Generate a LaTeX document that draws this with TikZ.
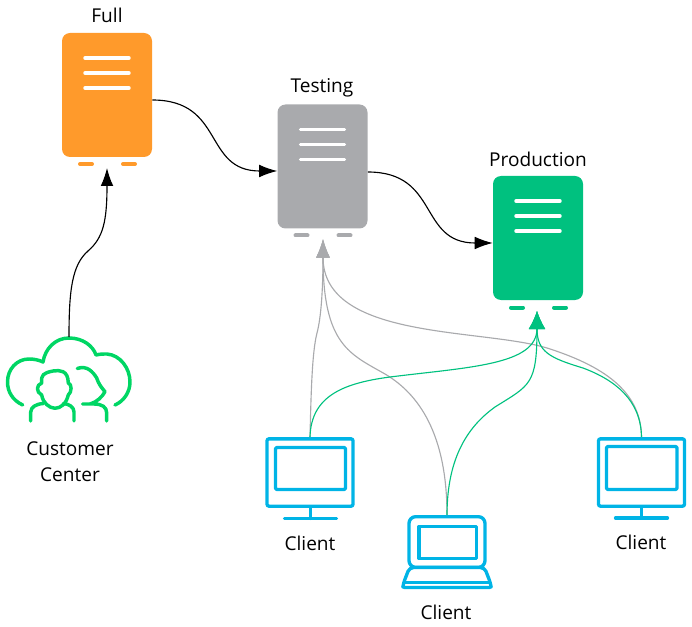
\documentclass[tikz,border=0pt]{standalone}
\usepackage{fontspec}
\setmainfont{Open Sans}
\usetikzlibrary{arrows.meta}
\definecolor{fullorange}{RGB}{255,154,43}
\definecolor{testgray}{RGB}{169,170,173}
\definecolor{prodgreen}{RGB}{0,193,127}
\definecolor{cloudgreen}{RGB}{0,214,100}
\definecolor{clientblue}{RGB}{0,180,230}
\tikzset{
  serverbox/.style={rounded corners=6pt,minimum width=67.5pt,minimum height=93pt,inner sep=0pt},
  barline/.style={white,line width=2.6pt,line cap=round},
  footline/.style={line width=3pt,line cap=round},
  blackflow/.style={black,line width=0.85pt,-{Latex[length=13.5pt,width=9.5pt]}},
  grayflow/.style={testgray,line width=0.85pt,-{Latex[length=14pt,width=10.5pt]}},
  greenflow/.style={prodgreen,line width=0.85pt,-{Latex[length=13.5pt,width=12.5pt]}},
  cloudline/.style={cloudgreen,line width=2.6pt,line cap=round,line join=round},
  clientline/.style={clientblue,line width=2.5pt,line cap=round,line join=round},
  screenbox/.style={draw=clientblue,line width=2.5pt,rounded corners=1.5pt,inner sep=0pt},
  caption/.style={inner sep=0pt,align=center,font=\fontsize{14.3}{19.5}\selectfont}
}
\begin{document}
\begin{tikzpicture}[x=0.75pt,y=0.75pt,yscale=-1]
\useasboundingbox (0,0) rectangle (692,627);

%Shape: Servers
\node (full) [serverbox,fill=fullorange] at (107,95) {};
\node (testing) [serverbox,fill=testgray] at (322.5,166.5) {};
\node (production) [serverbox,fill=prodgreen] at (538,238) {};
\draw [barline] (85,58) -- (129,58);
\draw [barline] (85,73) -- (129,73);
\draw [barline] (85,88) -- (129,88);
\draw [barline] (300.5,129.5) -- (344.5,129.5);
\draw [barline] (300.5,144.5) -- (344.5,144.5);
\draw [barline] (300.5,159.5) -- (344.5,159.5);
\draw [barline] (516,201) -- (560,201);
\draw [barline] (516,216) -- (560,216);
\draw [barline] (516,231) -- (560,231);
\draw [footline,fullorange] (80,164) -- (92,164);
\draw [footline,fullorange] (123,164) -- (135,164);
\draw [footline,testgray] (295.5,235.5) -- (307.5,235.5);
\draw [footline,testgray] (338.5,235.5) -- (350.5,235.5);
\draw [footline,prodgreen] (511,307.5) -- (523,307.5);
\draw [footline,prodgreen] (554,307.5) -- (566,307.5);

%Shape: Customer cloud
\coordinate (cloudtop) at (69,337);
\draw [cloudline] (22.7,405) .. controls (12,400) and (7.5,391) .. (7.5,382) .. controls (7.5,369) and (17,359) .. (29,359) .. controls (34,359) and (39,360) .. (43,362) .. controls (45,349) and (55,338) .. (69,338) .. controls (83,338) and (93,346) .. (96,355) .. controls (100,354) and (103,354) .. (107,354) .. controls (120,355) and (130,368) .. (130,382) .. controls (130,392) and (124,401) .. (115,405);
\draw [cloudline] (41.7,383) .. controls (41,375) and (43,373) .. (53,371) .. controls (60,370) and (68,370) .. (68.3,383) .. controls (72,384) and (72,392) .. (68.3,395) .. controls (66,404) and (61,408) .. (55,408.3) .. controls (49,408) and (43,403) .. (41.7,395) .. controls (36,392) and (36,385) .. (41.7,383) -- cycle;
\draw [cloudline] (30.7,421) -- (30.7,412) .. controls (31,407) and (36,404) .. (43.3,403.5);
\draw [cloudline] (74,421) -- (74,412) .. controls (74,407) and (69,404) .. (63.3,403.5);
\draw [cloudline] (77.3,368.5) .. controls (87,365) and (93,372) .. (96.7,378) .. controls (99,385) and (102,388) .. (105,391.7) .. controls (102,397) and (97,402) .. (90,404) -- (82.7,404) -- (94,404) .. controls (102,404) and (106.7,407) .. (106.7,413) -- (106.7,421);

%Shape: Clients
\node (clienta) [screenbox,minimum width=64.5pt,minimum height=50.5pt] at (310,472.5) {};
\node (clientb) [screenbox,minimum width=57pt,minimum height=38pt,rounded corners=5pt] at (447,542) {};
\node (clientc) [screenbox,minimum width=64.5pt,minimum height=50.5pt] at (641.5,472.5) {};
\draw [clientline,rounded corners=1pt] (275.5,447.5) rectangle (345.5,489.5);
\draw [clientline] (310.5,507) -- (310.5,518.5);
\draw [clientline] (284.5,518.5) -- (336.5,518.5);
\draw [clientline,rounded corners=1pt] (606.5,446.5) rectangle (677,489.5);
\draw [clientline] (641.5,507) -- (641.5,518);
\draw [clientline] (615.5,518) -- (667.5,518);
\draw [clientline] (419,526.5) rectangle (476.5,558.5);
\draw [clientline,fill=white,rounded corners=3pt] (409.5,567.5) -- (403.5,583) .. controls (403,586) and (405,587.5) .. (408,587.5) -- (486,587.5) .. controls (489,587.5) and (491,586) .. (490.5,583) -- (484.5,567.5) -- cycle;
\draw [clientline] (404.5,582.5) -- (489.5,582.5);

%Straight Lines: Black connectors
\coordinate (fullin) at (107,168);
\draw [blackflow] (full.east |- 0,100) .. controls (225,100) and (203,171) .. (testing.west |- 0,171);
\draw [blackflow] (testing.east |- 0,172) .. controls (440,172) and (418,243) .. (production.west |- 0,243);
\draw [blackflow] (cloudtop) .. controls (69,290) and (72,265) .. (88,251) .. controls (103,238) and (107,222) .. (fullin);

%Straight Lines: Gray connectors
\coordinate (testingin) at (323,239);
\draw [grayflow] (clienta.north) .. controls (311,395) and (312,352) .. (317,333) .. controls (321,318) and (323,290) .. (testingin);
\draw [grayflow] (clientb.north) .. controls (447,425) and (412,390) .. (385,374) .. controls (350,354) and (323,345) .. (testingin);
\draw [grayflow] (clientc.north) .. controls (641,395) and (610,368) .. (547,348) .. controls (480,328) and (323,340) .. (testingin);

%Straight Lines: Green connectors
\coordinate (productionin) at (537,311);
\draw [greenflow] (clienta.north) .. controls (311,395) and (345,383) .. (390,377) .. controls (470,367) and (537,365) .. (productionin);
\draw [greenflow] (clientb.north) .. controls (447,455) and (470,425) .. (495,407) .. controls (530,385) and (537,385) .. (productionin);
\draw [greenflow] (clientc.north) .. controls (641,400) and (615,380) .. (583,368) .. controls (550,358) and (537,352) .. (productionin);

% Text Node
\node (fulltext) [caption] at (107,15) {Full};
\node (testingtext) [caption] at (322,88) {Testing};
\node (productiontext) [caption] at (538,159) {Production};
\node (customertext) [caption] at (70,462) {Customer\\Center};
\node (clientatext) [caption] at (310,543) {Client};
\node (clientbtext) [caption] at (446,612) {Client};
\node (clientctext) [caption] at (641,542) {Client};
\end{tikzpicture}
\end{document}
